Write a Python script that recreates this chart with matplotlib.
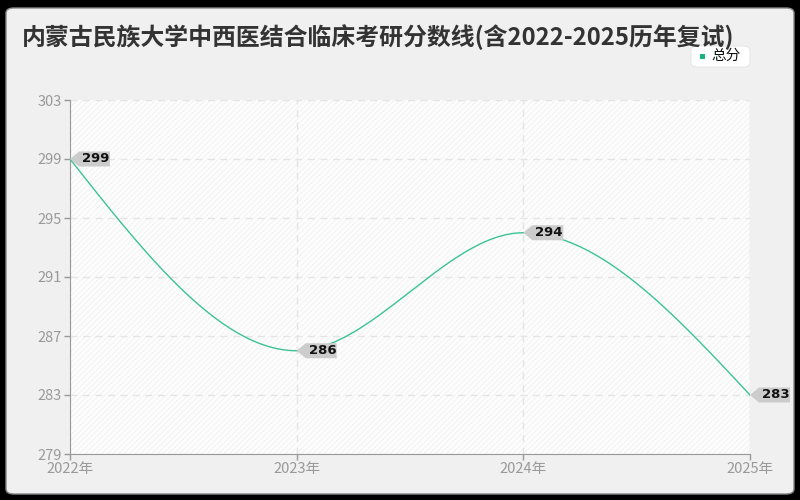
import numpy as np
import matplotlib
matplotlib.use("Agg")
import matplotlib.pyplot as plt
import matplotlib.transforms as mtrans
from matplotlib.patches import FancyBboxPatch, Rectangle, Polygon

plt.rcParams['font.family'] = ['Noto Sans CJK SC', 'DejaVu Sans']
plt.rcParams['hatch.color'] = '#efefef'
plt.rcParams['hatch.linewidth'] = 0.6

years = [2022, 2023, 2024, 2025]
xlabels = ['2022年', '2023年', '2024年', '2025年']
scores = [299, 286, 294, 283]
yticks = [279, 283, 287, 291, 295, 299, 303]
title = '内蒙古民族大学中西医结合临床考研分数线(含2022-2025历年复试)'
series_name = '总分'
line_color = '#3cc296'


def monotone_curve(x, y, n=60):
    x = np.asarray(x, float); y = np.asarray(y, float)
    h = np.diff(x); s = np.diff(y) / h
    t = np.zeros_like(y)
    for i in range(1, len(x) - 1):
        if s[i - 1] * s[i] <= 0:
            t[i] = 0
        else:
            p = (s[i - 1] * h[i] + s[i] * h[i - 1]) / (h[i - 1] + h[i])
            t[i] = (np.sign(s[i - 1]) + np.sign(s[i])) * min(abs(s[i - 1]), abs(s[i]), 0.5 * abs(p))
    t[0] = (3 * s[0] - t[1]) / 2
    t[-1] = (3 * s[-1] - t[-2]) / 2
    xs, ys = [], []
    for i in range(len(x) - 1):
        u = np.linspace(0, 1, n)
        h00 = 2 * u**3 - 3 * u**2 + 1
        h10 = u**3 - 2 * u**2 + u
        h01 = -2 * u**3 + 3 * u**2
        h11 = u**3 - u**2
        xs.append(x[i] + u * h[i])
        ys.append(h00 * y[i] + h10 * h[i] * t[i] + h01 * y[i + 1] + h11 * h[i] * t[i + 1])
    return np.concatenate(xs), np.concatenate(ys)


fig = plt.figure(figsize=(8, 5), dpi=100, facecolor='black')
bg = FancyBboxPatch((6 / 800, 6 / 500), 788 / 800, 486 / 500,
                    boxstyle='round,pad=0,rounding_size=0.01',
                    transform=fig.transFigure, facecolor='#f0f0f0',
                    edgecolor='#888888', linewidth=1.0, zorder=-5)
fig.patches.append(bg)

ax = fig.add_axes([70 / 800, 46 / 500, 680 / 800, 354 / 500])
ax.set_facecolor('#fdfdfd')
ax.add_patch(Rectangle((0, 0), 1, 1, transform=ax.transAxes, facecolor='none',
                       hatch='//////', edgecolor='#f0f0f0', linewidth=0, zorder=0))

cx, cy = monotone_curve(years, scores)
ax.plot(cx, cy, color=line_color, linewidth=1.0, zorder=3)

ax.set_xlim(years[0], years[-1])
ax.set_ylim(yticks[0], yticks[-1])
ax.set_xticks(years)
ax.set_xticklabels(xlabels)
ax.set_yticks(yticks)
ax.tick_params(axis='both', colors='#999999', labelcolor='#999999', labelsize=10.5,
               length=4, width=1)
ax.tick_params(axis='x', pad=2)
ax.tick_params(axis='y', pad=2)
ax.grid(True, color='#e4e4e4', linestyle=(0, (5, 4)), linewidth=1)
for sp in ['top', 'right']:
    ax.spines[sp].set_visible(False)
for sp in ['left', 'bottom']:
    ax.spines[sp].set_color('#999999')
ax.axvline(years[-1], color='#e4e4e4', linewidth=1, zorder=1)

shape = [(0, 0), (9, 7.5), (40, 7.5), (40, -7.5), (9, -7.5)]
for x, y in zip(years, scores):
    tr = mtrans.IdentityTransform() + mtrans.ScaledTranslation(x, y, ax.transData)
    ax.add_patch(Polygon(shape, closed=True, transform=tr, facecolor='#cccccc',
                         edgecolor='none', zorder=5, clip_on=False))
    ax.annotate(str(y), xy=(x, y), xytext=(12, 0), textcoords='offset pixels',
                ha='left', va='center', fontsize=9.5, fontweight='bold', color='#111111',
                family=['DejaVu Sans'], zorder=6, annotation_clip=False)

fig.text(22 / 800, 1 - 37 / 500, title, fontsize=17.2, fontweight='bold',
         color='#333333', ha='left', va='center')

leg_box = FancyBboxPatch((691 / 800, 1 - 67 / 500), 59 / 800, 21 / 500,
                         boxstyle='round,pad=0,rounding_size=0.008',
                         transform=fig.transFigure, facecolor='white',
                         edgecolor='#e6e6e6', linewidth=0.8, zorder=2)
fig.patches.append(leg_box)
fig.patches.append(Rectangle((700 / 800, 1 - 59 / 500), 5 / 800, 5 / 500,
                             transform=fig.transFigure, facecolor='#19b37e',
                             edgecolor='none', zorder=3))
fig.text(711 / 800, 1 - 56 / 500, series_name, fontsize=10.5, color='#111111',
         ha='left', va='center', zorder=4)

fig.savefig('out.png', dpi=100, facecolor=fig.get_facecolor())
